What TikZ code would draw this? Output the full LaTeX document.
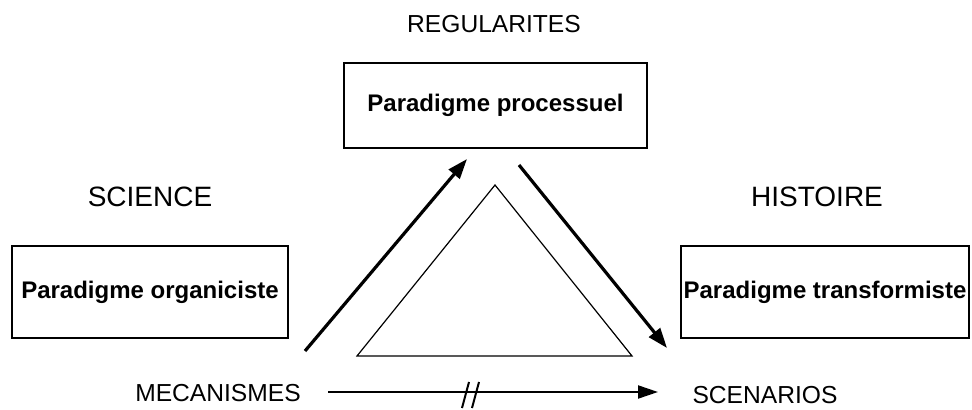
\documentclass[tikz,border=0pt]{standalone}
\usepackage{fontspec}
\setmainfont{Liberation Sans}
\usetikzlibrary{arrows.meta}

\begin{document}
\begin{tikzpicture}[x=0.5pt,y=-0.5pt,
        box/.style={draw,line width=0.8pt,inner sep=0pt,
          font=\fontsize{12}{14}\selectfont\bfseries},
        pole/.style={font=\fontsize{14}{16}\selectfont},
        axe/.style={font=\fontsize{12.3}{14}\selectfont},
        fleche/.style={-{Triangle[length=10pt,width=7pt]},line width=1.6pt},
        base/.style={-{Triangle[length=10pt,width=6.5pt]},line width=1pt}]

  \useasboundingbox (0,0) rectangle (972,410);

  \node[box,minimum width=151.5pt,minimum height=42.5pt] (proc) at (495.5,105.5) {Paradigme processuel};
  \node[box,minimum width=138pt,minimum height=46pt] (orga) at (150,292) {Paradigme organiciste};
  \node[box,minimum width=144pt,minimum height=46pt] (trans) at (825,292) {Paradigme transformiste};

  \node[axe] (regu) at (494,24) {REGULARITES};
  \node[pole] (sci) at (150,197) {SCIENCE};
  \node[pole] (hist) at (817,197) {HISTOIRE};
  \node[axe] (meca) at (218,393) {MECANISMES};
  \node[axe] (scen) at (765,395) {SCENARIOS};

  \coordinate (g1) at (305,351);
  \coordinate (g2) at (467,159);
  \coordinate (d1) at (519,165);
  \coordinate (d2) at (667,348);
  \coordinate (b1) at (328,392);
  \coordinate (b2) at (658,392);

  \draw[line width=0.6pt] (495,185) -- (632,356) -- (357,356) -- cycle;

  \path (g1) edge[fleche] (g2)
        (d1) edge[fleche] (d2)
        (b1) edge[base]   (b2);

  % coupure
  \draw[line width=1pt] (462,408) -- (469,382)
                        (472,408) -- (479,382);

\end{tikzpicture}
\end{document}
